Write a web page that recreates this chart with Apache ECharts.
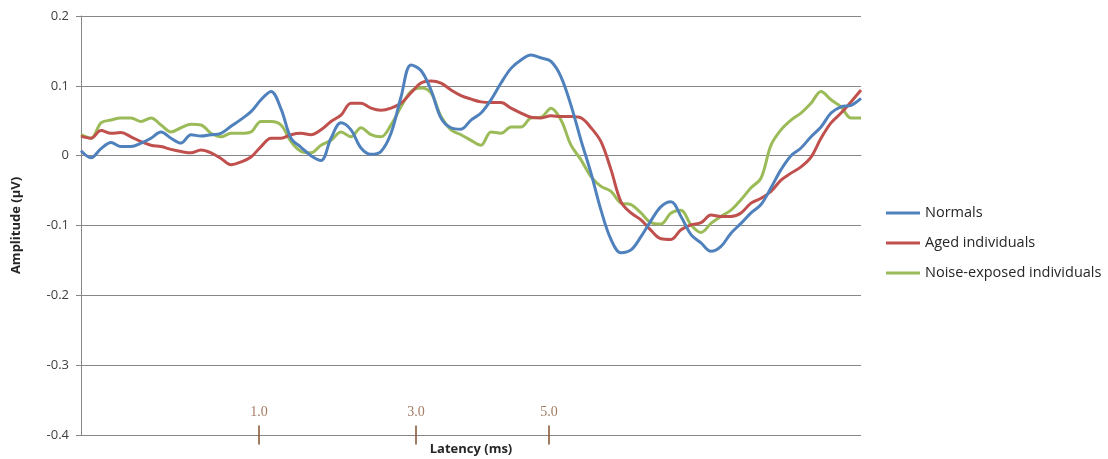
<!DOCTYPE html>
<html>
<head>
<meta charset="utf-8">
<script src="https://cdn.jsdelivr.net/npm/echarts@6/dist/echarts.min.js"></script>
<style>html,body{margin:0;padding:0;background:#fff;}#c{width:1108px;height:459px;}</style>
</head>
<body>
<div id="c"></div>
<script>
// Sample index (uniform sampling along the latency axis)
const seriesNames = ['Normals', 'Aged individuals', 'Noise-exposed individuals'];
const normals = [0.007,-0.003,0.01,0.019,0.013,0.013,0.018,0.025,0.034,0.025,0.018,0.03,0.028,0.03,0.032,0.042,0.052,0.063,0.08,0.092,0.067,0.025,0.012,0.0,-0.007,0.025,0.047,0.037,0.011,0.002,0.006,0.032,0.084,0.13,0.122,0.094,0.054,0.04,0.038,0.051,0.061,0.08,0.104,0.125,0.137,0.144,0.14,0.135,0.113,0.072,0.022,-0.025,-0.078,-0.12,-0.139,-0.135,-0.116,-0.093,-0.073,-0.066,-0.087,-0.113,-0.125,-0.137,-0.13,-0.111,-0.097,-0.082,-0.07,-0.046,-0.02,0.0,0.011,0.027,0.041,0.061,0.07,0.072,0.082];
const aged = [0.028,0.025,0.036,0.032,0.033,0.027,0.02,0.015,0.013,0.009,0.006,0.004,0.008,0.004,-0.004,-0.013,-0.009,-0.002,0.013,0.025,0.025,0.03,0.032,0.03,0.037,0.049,0.058,0.075,0.075,0.068,0.065,0.068,0.075,0.09,0.104,0.107,0.104,0.094,0.086,0.081,0.077,0.076,0.076,0.068,0.061,0.055,0.054,0.057,0.056,0.056,0.054,0.04,0.02,-0.02,-0.066,-0.082,-0.092,-0.107,-0.119,-0.12,-0.106,-0.099,-0.096,-0.085,-0.087,-0.087,-0.082,-0.068,-0.061,-0.051,-0.035,-0.025,-0.016,-0.002,0.025,0.047,0.061,0.077,0.094];
const noise = [0.03,0.025,0.047,0.051,0.054,0.054,0.049,0.054,0.044,0.034,0.04,0.045,0.044,0.032,0.027,0.032,0.032,0.034,0.049,0.049,0.044,0.02,0.006,0.004,0.015,0.022,0.034,0.027,0.04,0.03,0.027,0.044,0.07,0.092,0.097,0.09,0.056,0.037,0.03,0.022,0.015,0.034,0.032,0.041,0.041,0.054,0.055,0.068,0.051,0.015,-0.006,-0.03,-0.044,-0.051,-0.068,-0.07,-0.082,-0.096,-0.098,-0.082,-0.078,-0.099,-0.11,-0.097,-0.087,-0.078,-0.063,-0.046,-0.032,0.015,0.037,0.051,0.061,0.075,0.092,0.08,0.07,0.054,0.054];
// Latency markers: label and position on the sample axis
const markerLabels = ['1.0', '3.0', '5.0'];
const markerPos = [17.8, 33.5, 46.8];
const yTicks = [-0.4, -0.3, -0.2, -0.1, 0, 0.1, 0.2];

const colors = ['#4F81BD', '#C0504D', '#9BBB59'];
const sets = [normals, aged, noise];
const font = '"Open Sans", Lato, sans-serif';

const chart = echarts.init(document.getElementById('c'), null, {renderer: 'canvas'});
const lineSeries = sets.map((arr, i) => ({
  name: seriesNames[i],
  type: 'line',
  data: arr.map((v, k) => [k, v]),
  showSymbol: false,
  smooth: 0.35,
  lineStyle: {color: colors[i], width: 3},
  itemStyle: {color: colors[i]},
  z: 3 + (2 - i)
}));
lineSeries.push({
  name: 'markers',
  type: 'scatter',
  data: markerPos.map((p, i) => ({value: [p, yTicks[0]], label: {formatter: markerLabels[i]}})),
  symbol: 'rect',
  symbolSize: [2, 19],
  itemStyle: {color: '#8B5A3C'},
  label: {show: true, position: 'top', distance: 6, color: '#8B5A3C', fontFamily: '"Liberation Serif", "DejaVu Serif", serif', fontSize: 14},
  silent: true,
  z: 10
});

chart.setOption({
  animation: false,
  backgroundColor: '#fff',
  grid: {left: 81, right: 247, top: 16, bottom: 24, containLabel: false, outerBoundsMode: 'none'},
  legend: {
    data: seriesNames,
    orient: 'vertical',
    left: 881,
    top: 199,
    itemWidth: 34,
    itemHeight: 3,
    itemGap: 12,
    icon: 'rect',
    textStyle: {fontFamily: font, fontSize: 14.5, color: '#262626', lineHeight: 18}
  },
  xAxis: {
    type: 'value',
    min: 0,
    max: normals.length - 1,
    name: 'Latency (ms)',
    nameLocation: 'middle',
    nameGap: 8,
    nameTextStyle: {fontFamily: font, fontSize: 13, fontWeight: 'bold', color: '#262626'},
    axisLine: {show: true, lineStyle: {color: '#868686', width: 1}},
    axisTick: {show: false},
    axisLabel: {show: false},
    splitLine: {show: false}
  },
  yAxis: {
    type: 'value',
    min: yTicks[0],
    max: yTicks[yTicks.length - 1],
    interval: 0.1,
    name: 'Amplitude (µV)',
    nameLocation: 'middle',
    nameRotate: 90,
    nameGap: 58,
    nameTextStyle: {fontFamily: font, fontSize: 13, fontWeight: 'bold', color: '#262626'},
    axisLine: {show: true, lineStyle: {color: '#868686'}},
    axisTick: {show: true, length: 5, lineStyle: {color: '#868686'}},
    axisLabel: {fontFamily: font, fontSize: 13, color: '#404040', margin: 12,
      formatter: v => { const r = Math.round(v * 10) / 10; return r === 0 ? '0' : r.toFixed(1); }},
    splitLine: {show: true, lineStyle: {color: '#878787', width: 1}}
  },
  series: lineSeries
});
</script>
</body>
</html>
